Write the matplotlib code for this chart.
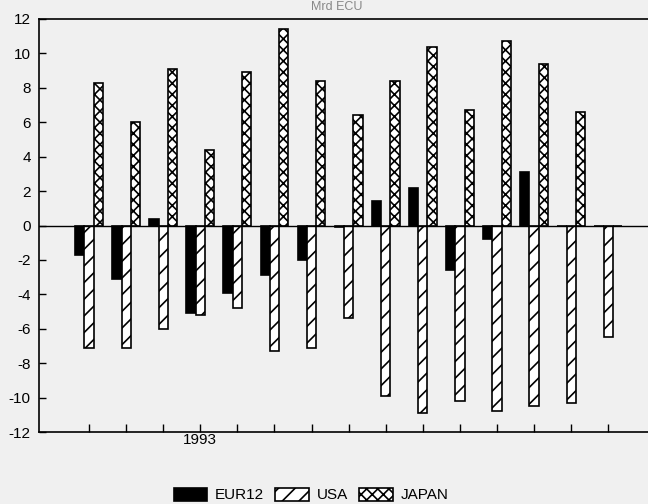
import matplotlib
matplotlib.use("Agg")
import matplotlib.pyplot as plt
import numpy as np

# Balance series, one value per period
eur12 = [-1.7, -3.1, 0.4, -5.1, -3.9, -2.9, -2.0, -0.1, 1.4, 2.2, -2.6, -0.8, 3.1, 0.0, 0.0]
usa = [-7.1, -7.1, -6.0, -5.2, -4.8, -7.3, -7.1, -5.4, -9.9, -10.9, -10.2, -10.8, -10.5, -10.3, -6.5]
japan = [8.3, 6.0, 9.1, 4.4, 8.9, 11.4, 8.4, 6.4, 8.4, 10.4, 6.7, 10.7, 9.4, 6.6, 0.0]
period_labels = ["", "", "", "1993", "", "", "", "", "", "", "", "", "", "", ""]
series_names = ["EUR12", "USA", "JAPAN"]
y_ticks = [12, 10, 8, 6, 4, 2, 0, -2, -4, -6, -8, -10, -12]

plt.rcParams["font.family"] = ["Liberation Sans", "DejaVu Sans"]
plt.rcParams["hatch.linewidth"] = 1.2

W, H = 648, 504
fig = plt.figure(figsize=(W / 100, H / 100), dpi=100, facecolor="#f0f0f0")

left_px, right_px, top_px, bottom_px = 39, 662, 19, 432
ax = fig.add_axes([left_px / W, 1 - bottom_px / H,
                   (right_px - left_px) / W, (bottom_px - top_px) / H])
ax.set_facecolor("#f0f0f0")

x = np.arange(len(eur12))
bw = 0.25
ax.bar(x - bw, eur12, bw, color="black", edgecolor="black", linewidth=1.2, label=series_names[0])
ax.bar(x, usa, bw, color="white", edgecolor="black", hatch="//", linewidth=1.2, label=series_names[1])
ax.bar(x + bw, japan, bw, color="white", edgecolor="black", hatch="xxx", linewidth=1.2, label=series_names[2])

ax.axhline(0, color="black", linewidth=1.0, zorder=3)

ax.set_ylim(-12, 12)
ax.set_xlim(-1.35, 15.45)
ax.set_yticks(y_ticks)
ax.set_yticklabels([str(v) for v in y_ticks], fontsize=11)
ax.set_xticks(x)
ax.set_xticklabels(period_labels, fontsize=11)
ax.tick_params(axis="y", direction="in", length=5, width=1, pad=6)
ax.tick_params(axis="x", direction="in", length=6, width=1, pad=1)

for side in ["left", "bottom", "top"]:
    ax.spines[side].set_linewidth(1.2)
    ax.spines[side].set_color("black")
ax.spines["right"].set_visible(False)

fig.text(337 / W, 1 - 1 / H, "Mrd ECU", ha="center", va="top", fontsize=9, color="#888888")

fig.legend(loc="center", bbox_to_anchor=(311 / W, 1 - 495 / H), ncol=3, frameon=False,
           fontsize=11, handlelength=2.2, handleheight=0.95, handletextpad=0.5,
           columnspacing=0.75, borderpad=0.2)

fig.savefig("out.png", dpi=100, facecolor=fig.get_facecolor())
